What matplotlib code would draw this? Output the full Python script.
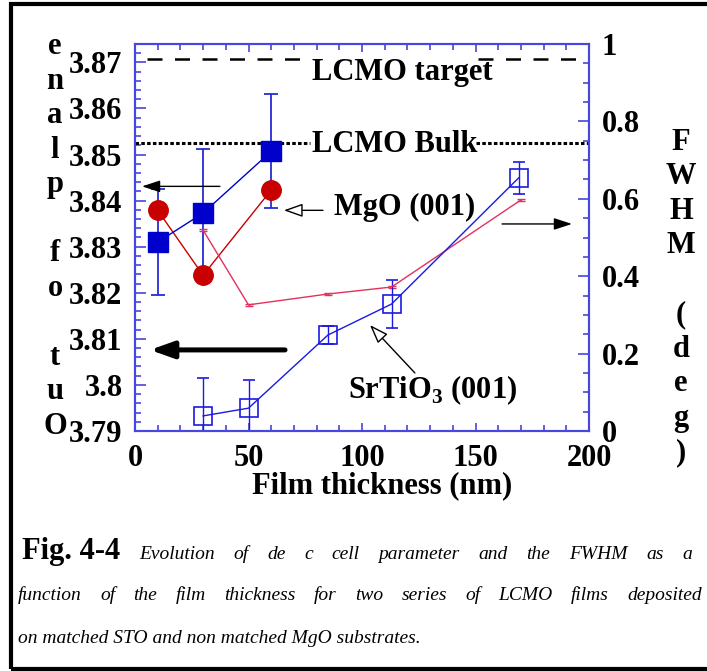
import matplotlib
matplotlib.use('Agg')
import matplotlib.pyplot as plt
from matplotlib.patches import Rectangle
from matplotlib.ticker import MultipleLocator, FuncFormatter

plt.rcParams['font.family'] = ['Liberation Serif', 'DejaVu Serif']
plt.rcParams['font.weight'] = 'bold'
plt.rcParams['font.size'] = 22
plt.rcParams['mathtext.fontset'] = 'custom'
plt.rcParams['mathtext.rm'] = 'Liberation Serif:bold'

# c parameter (left axis)
sto_x = [10, 30, 60]
sto_c = [3.8310, 3.8373, 3.8507]
sto_c_err = [0.0115, 0.0139, 0.0124]
mgo_x = [10, 30, 60]
mgo_c = [3.8379, 3.8238, 3.8423]

# FWHM (right axis)
sto_fw_x = [30, 50, 85, 113, 169]
sto_fw = [0.039, 0.059, 0.248, 0.328, 0.654]
sto_fw_err = [0.098, 0.073, 0.024, 0.062, 0.041]
mgo_fw_x = [30, 50, 85, 113, 170]
mgo_fw = [0.519, 0.326, 0.354, 0.372, 0.597]

target_c = 3.8707
bulk_c = 3.8525

W, H = 707, 671
spine_col = '#4646e0'

fig = plt.figure(figsize=(W / 100, H / 100), dpi=100)
ax = fig.add_axes([135 / W, 1 - 431 / H, (589 - 135) / W, (431 - 44) / H])
ax2 = ax.twinx()

# reference lines
ax.plot([5.1, 72.7], [target_c, target_c], color='black', lw=1.8,
        ls=(0, (6.0, 5.0)))
ax.plot([151.1, 200], [target_c, target_c], color='black', lw=1.8,
        ls=(0, (6.0, 5.0)))
ax.plot([0, 77], [bulk_c, bulk_c], color='black', lw=2.2, ls=(0, (1.15, 0.75)))
ax.plot([150, 200], [bulk_c, bulk_c], color='black', lw=2.2, ls=(0, (1.15, 0.75)))
ax.text(78, 3.8661, 'LCMO target', va='baseline')
ax.text(78, 3.8505, 'LCMO Bulk', va='baseline')

# lattice parameter series
ax.errorbar(sto_x, sto_c, yerr=sto_c_err, fmt='s-', color='#0000cc',
            ecolor='#2a2ad4', ms=14, lw=1.0, elinewidth=1.3, capsize=5,
            capthick=1.3)
ax.plot(mgo_x, mgo_c, 'o-', color='#c80000', ms=14, lw=1.0)

# FWHM series
ax2.errorbar(mgo_fw_x, mgo_fw, yerr=0.002, fmt='-', color='#e3305f', lw=1.0,
             elinewidth=1.0, capsize=3)
ax2.errorbar(sto_fw_x, sto_fw, yerr=sto_fw_err, fmt='s-', color='#1a1ae0',
             mfc='none', mec='#1a1ae0', ms=12.5, mew=1.2, lw=1.0,
             elinewidth=1.0, capsize=4)

# arrows
def arrow(a, tail, head, lw=1.0, hl=1.1, hw=0.36, fc='black'):
    a.annotate('', xy=head, xytext=tail,
               arrowprops=dict(arrowstyle='-|>,head_length=%g,head_width=%g' % (hl, hw),
                               lw=lw, edgecolor='black', facecolor=fc,
                               shrinkA=0, shrinkB=0, mutation_scale=10))

arrow(ax, (37.4, 3.8431), (3.1, 3.8431))
arrow(ax, (66.1, 3.8076), (6.6, 3.8076), lw=3.6, hl=1.4, hw=0.5)
arrow(ax2, (161.7, 0.535), (192.5, 0.535))
arrow(ax, (82.8, 3.8379), (65.6, 3.8379), hl=1.15, hw=0.41, fc='white')
arrow(ax, (123.3, 3.8026), (103.5, 3.8130), hl=1.15, hw=0.41, fc='white')
ax.text(87.7, 3.8369, 'MgO (001)', va='baseline')
ax.text(93.8, 3.7972, r'SrTiO$_\mathregular{3}$ (001)', va='baseline')

# axes styling
ax.set_xlim(0, 200)
ax.set_ylim(3.79, 3.874)
ax2.set_ylim(0, 1)
ax.xaxis.set_major_locator(MultipleLocator(50))
ax.xaxis.set_minor_locator(MultipleLocator(10))
ax.yaxis.set_major_locator(MultipleLocator(0.01))
ax.yaxis.set_minor_locator(MultipleLocator(0.002))
ax2.yaxis.set_major_locator(MultipleLocator(0.2))
ax2.yaxis.set_minor_locator(MultipleLocator(0.05))
fmt = FuncFormatter(lambda v, p: '%g' % round(v, 4))
ax.yaxis.set_major_formatter(fmt)
ax2.yaxis.set_major_formatter(fmt)

for a in (ax, ax2):
    for s in a.spines.values():
        s.set_color(spine_col)
        s.set_linewidth(1.5)
ax.tick_params(axis='x', which='both', direction='in', top=True,
               color=spine_col, width=1.2, pad=9)
ax.tick_params(axis='x', which='major', length=6)
ax.tick_params(axis='x', which='minor', length=4.5)
ax.tick_params(axis='y', which='both', direction='in', color=spine_col,
               width=1.2, pad=9)
ax2.tick_params(axis='y', which='both', direction='in', color=spine_col,
                width=1.2, pad=9)
for a in (ax, ax2):
    a.tick_params(axis='y', which='major', length=8)
    a.tick_params(axis='y', which='minor', length=4.5)

# stacked axis titles
fig.text(55 / W, 1 - 236.5 / H, 'e\nn\na\nl\np\n\nf\no\n\nt\nu\nO',
         ha='center', va='center', linespacing=1.25)
fig.text(681 / W, 1 - 297.5 / H, 'F\nW\nH\nM\n\n(\nd\ne\ng\n)',
         ha='center', va='center', linespacing=1.25)
fig.text(382 / W, 1 - 493 / H, 'Film thickness (nm)', ha='center',
         va='baseline')

# outer frame
fig.add_artist(Rectangle((11 / W, 2 / H), 1.2, (667 - 2) / H,
                         transform=fig.transFigure, fill=False, lw=3,
                         ec='black', clip_on=False))

# caption with justified lines
cap_size = 14
bold = dict(fontsize=22, fontweight='bold')
ital = dict(fontsize=cap_size, fontweight='normal', style='italic',
            family=['Liberation Serif'])
renderer = fig.canvas.get_renderer()


def justify(words, props, x0, x1, y):
    texts = [fig.text(x0 / W, 1 - y / H, w, va='baseline', **p)
             for w, p in zip(words, props)]
    widths = [t.get_window_extent(renderer).width for t in texts]
    gap = (x1 - x0 - sum(widths)) / (len(texts) - 1)
    x = x0
    for t, w in zip(texts, widths):
        t.set_x(x / W)
        x += w + gap


line1 = 'Evolution of de c cell parameter and the FWHM as a'.split()
justify(['Fig. 4-4'] + line1, [bold] + [ital] * len(line1), 22, 692, 559)
line2 = 'function of the film thickness for two series of LCMO films deposited'.split()
justify(line2, [ital] * len(line2), 18, 702, 600)
fig.text(18 / W, 1 - 643 / H, 'on matched STO and non matched MgO substrates.',
         va='baseline', **ital)

fig.savefig('out.png', dpi=100)
